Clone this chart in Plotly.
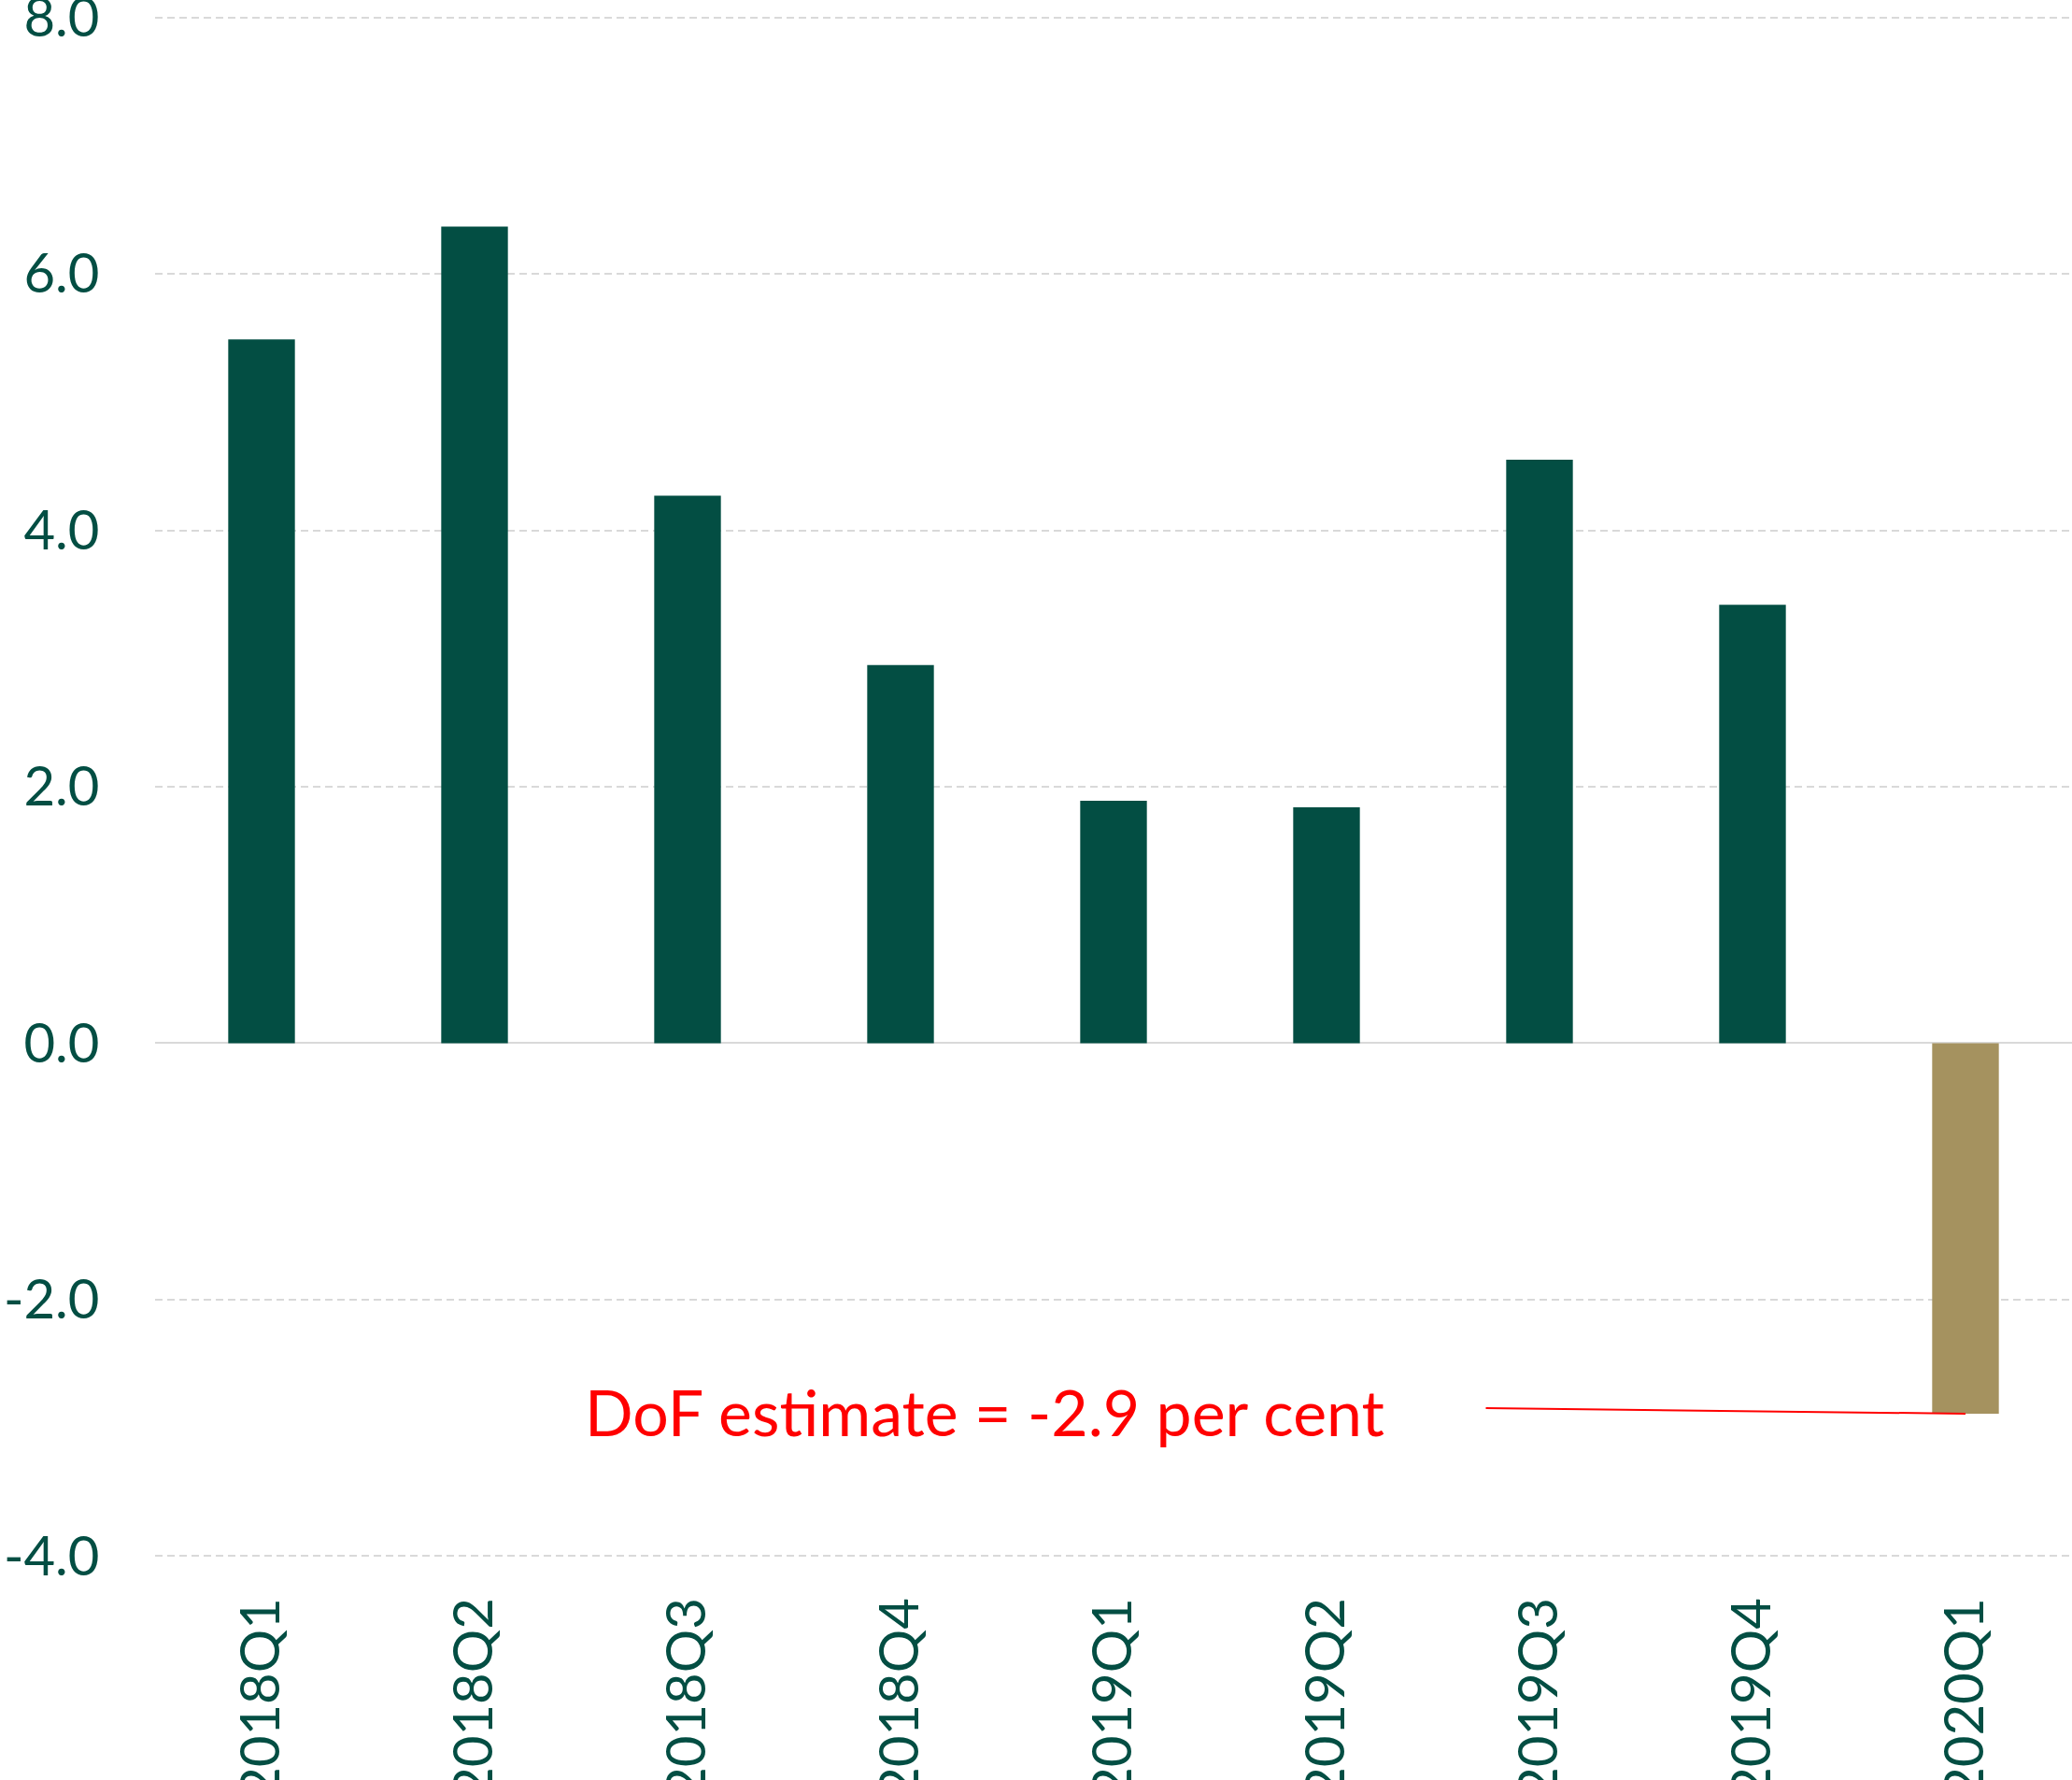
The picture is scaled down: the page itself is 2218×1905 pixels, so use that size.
import plotly.graph_objects as go

quarters = ["2018Q1", "2018Q2", "2018Q3", "2018Q4", "2019Q1", "2019Q2", "2019Q3", "2019Q4", "2020Q1"]
growth = [5.49, 6.37, 4.27, 2.95, 1.89, 1.84, 4.55, 3.42, -2.89]
bar_colors = ["#034E43"] * 8 + ["#A5925F"]
y_ticks = [-4, -2, 0, 2, 4, 6, 8]
y_tick_text = ["-4.0", "-2.0", "0.0", "2.0", "4.0", "6.0", "8.0"]
note_text = "DoF estimate = -2.9 per cent"

TEXT = "#034E43"
FONT = "Lato"

fig = go.Figure()
fig.add_trace(go.Bar(
    x=quarters, y=growth,
    marker=dict(color=bar_colors, line=dict(width=0)),
    showlegend=False,
))

# connector line from the 2020Q1 bar to the note
fig.add_annotation(
    x=quarters[-1], y=growth[-1], xref="x", yref="y",
    text=" ", font=dict(size=1), borderpad=0,
    showarrow=True, arrowhead=0, arrowwidth=2, arrowcolor="#FF0000",
    ax=-514, ay=-6, standoff=0, startstandoff=0,
)
fig.add_annotation(
    x=0.4327, y=-2.875, xref="paper", yref="y",
    text=note_text, showarrow=False,
    font=dict(family=FONT, size=68, color="#FF0000"),
    xanchor="center", yanchor="middle",
)

fig.update_layout(
    width=2218, height=1905,
    margin=dict(l=166, r=0, t=16, b=237, autoexpand=False),
    paper_bgcolor="white", plot_bgcolor="white",
    bargap=0.687,
    font=dict(family=FONT, color=TEXT),
)
fig.update_xaxes(
    type="category", automargin=False,
    tickangle=-90, ticklabeloverflow="allow",
    tickfont=dict(family=FONT, size=58, color=TEXT),
    ticks="outside", ticklen=18, tickcolor="rgba(0,0,0,0)",
    showgrid=False, showline=False, zeroline=False,
)
fig.update_yaxes(
    range=[-4.02, 8.02], automargin=False, ticklabeloverflow="allow",
    tickvals=y_ticks, ticktext=y_tick_text,
    tickfont=dict(family=FONT, size=58, color=TEXT),
    ticks="outside", ticklen=47, tickcolor="rgba(0,0,0,0)",
    showgrid=True, gridcolor="#D9D9D9", gridwidth=2, griddash="8px,5px",
    zeroline=True, zerolinecolor="#D9D9D9", zerolinewidth=2,
    showline=False,
)

fig.write_html("out.html")
